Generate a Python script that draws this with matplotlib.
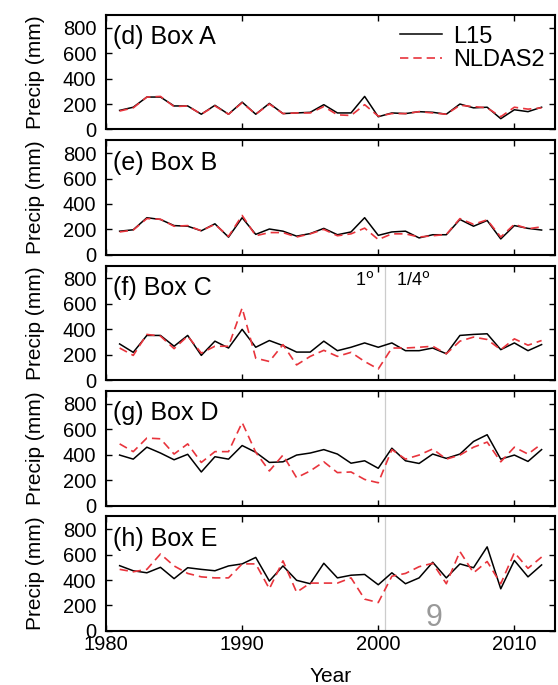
import matplotlib
matplotlib.use("Agg")
import matplotlib.pyplot as plt

plt.rcParams['font.family'] = ['Liberation Sans', 'DejaVu Sans']

years = list(range(1981, 2013))

l15_a = [150, 175, 255, 255, 185, 185, 120, 190, 120, 215, 120, 205, 125, 130, 135, 195,
         130, 130, 260, 100, 130, 125, 140, 135, 120, 200, 170, 175, 85, 155, 140, 175]
nld_a = [145, 170, 255, 260, 180, 185, 120, 185, 120, 210, 120, 200, 125, 130, 130, 180,
         115, 110, 195, 105, 125, 125, 140, 130, 120, 190, 180, 170, 100, 175, 160, 170]

l15_b = [186, 197, 292, 278, 230, 225, 189, 244, 139, 292, 161, 203, 186, 147, 167, 208,
         158, 180, 292, 153, 180, 186, 133, 158, 158, 278, 225, 270, 125, 230, 208, 195]
nld_b = [180, 195, 285, 280, 225, 230, 189, 240, 145, 310, 150, 175, 175, 140, 165, 200,
         150, 165, 210, 120, 165, 165, 140, 150, 160, 285, 240, 275, 140, 240, 205, 220]

l15_c = [285, 219, 352, 352, 267, 352, 195, 307, 253, 400, 259, 312, 272, 221, 221, 307,
         232, 259, 293, 259, 293, 232, 232, 253, 208, 352, 360, 365, 240, 293, 232, 280]
nld_c = [253, 195, 360, 347, 248, 347, 213, 267, 267, 568, 173, 147, 280, 120, 187, 235,
         187, 219, 147, 88, 253, 253, 259, 267, 208, 307, 339, 320, 240, 325, 275, 312]

l15_d = [397, 365, 459, 413, 360, 403, 264, 384, 365, 472, 419, 339, 344, 397, 413, 440,
         405, 333, 352, 293, 451, 352, 331, 405, 371, 405, 504, 557, 365, 397, 347, 440]
nld_d = [485, 424, 531, 525, 405, 485, 339, 424, 424, 653, 419, 272, 397, 219, 272, 344,
         259, 264, 205, 179, 440, 365, 397, 445, 365, 397, 459, 499, 344, 459, 405, 485]

l15_e = [513, 473, 457, 500, 411, 497, 484, 473, 511, 527, 578, 392, 511, 398, 371, 532,
         417, 438, 444, 363, 457, 371, 417, 540, 417, 527, 497, 661, 331, 554, 425, 519]
nld_e = [484, 465, 484, 605, 511, 452, 425, 417, 417, 527, 527, 331, 551, 304, 376, 376,
         376, 417, 250, 223, 430, 452, 505, 532, 371, 624, 457, 546, 371, 616, 492, 581]

panel_titles = ["(d) Box A", "(e) Box B", "(f) Box C", "(g) Box D", "(h) Box E"]
series_l15 = [l15_a, l15_b, l15_c, l15_d, l15_e]
series_nld = [nld_a, nld_b, nld_c, nld_d, nld_e]
yticks = [0, 200, 400, 600, 800]
xticks = [1980, 1990, 2000, 2010]
split_year = 2000.5
red = '#e8343c'

fig = plt.figure(figsize=(5.58, 6.85), dpi=100)
left, right = 0.19, 0.995
top, bottom = 0.978, 0.079
gap = 0.016
h = (top - bottom - 4 * gap) / 5

for i in range(5):
    y0 = top - (i + 1) * h - i * gap
    ax = fig.add_axes([left, y0, right - left, h])
    ax.plot(years, series_l15[i], color='black', lw=1.1, label='L15')
    ax.plot(years, series_nld[i], color=red, lw=1.2, ls=(0, (5, 3)), label='NLDAS2')
    ax.set_xlim(1980, 2013)
    ax.set_ylim(0, 900)
    ax.set_yticks(yticks)
    ax.set_xticks(xticks)
    ax.tick_params(direction='in', top=True, right=True, length=4.5, width=1,
                   labelsize=14.5, pad=3)
    ax.tick_params(axis='y', pad=7)
    for s in ax.spines.values():
        s.set_linewidth(1.5)
    ax.set_ylabel('Precip (mm)', fontsize=15)
    ax.yaxis.set_label_coords(-0.135, 0.5)
    ax.text(0.015, 0.91, panel_titles[i], transform=ax.transAxes, fontsize=18,
            va='top', ha='left')
    if i < 4:
        ax.set_xticklabels([])
    else:
        ax.set_xlabel('Year', fontsize=15, labelpad=9)
    if i >= 2:
        ax.axvline(split_year, color='#cccccc', lw=0.9, zorder=0)
    if i == 2:
        ax.text(split_year - 0.8, 790, '1$^{\\rm o}$', ha='right', va='center', fontsize=13)
        ax.text(split_year + 0.8, 790, '1/4$^{\\rm o}$', ha='left', va='center', fontsize=13)
    if i == 0:
        ax.legend(loc='upper right', frameon=False, fontsize=17, handlelength=1.8,
                  borderaxespad=0.05, labelspacing=0.05, handletextpad=0.45)

fig.text(0.778, 0.098, '9', fontsize=22, color='#999999', ha='center', va='center')

fig.savefig('out.png', dpi=100)
